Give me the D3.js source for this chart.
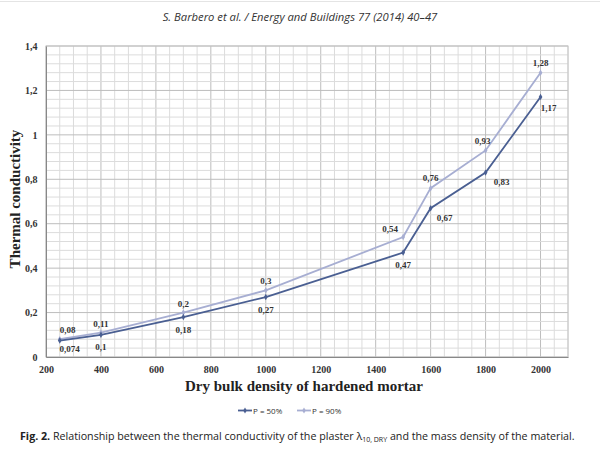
<!DOCTYPE html>
<html><head><meta charset="utf-8">
<script src="https://cdn.jsdelivr.net/npm/d3@7"></script>
<style>body{margin:0;background:#fff}svg{display:block}</style>
</head><body>
<script>
const densities = [250, 400, 700, 1000, 1500, 1600, 1800, 2000];
const p50 = [0.074, 0.1, 0.18, 0.27, 0.47, 0.67, 0.83, 1.17];
const p90 = [0.08, 0.11, 0.2, 0.3, 0.54, 0.76, 0.93, 1.28];
const xTicks = [200, 400, 600, 800, 1000, 1200, 1400, 1600, 1800, 2000];
const yTicks = [0, 0.2, 0.4, 0.6, 0.8, 1, 1.2, 1.4];
const seriesNames = ["P = 50%", "P = 90%"];

const W = 600, H = 456;
const svg = d3.select("body").append("svg").attr("width", W).attr("height", H);
const fmt = v => String(v).replace(".", ",");

function fitWidth(sel, w) {
  const n = sel.node();
  const cur = n.getComputedTextLength();
  const fs = parseFloat(sel.attr("font-size"));
  sel.attr("font-size", fs * w / cur);
}

svg.append("line").attr("x1",0).attr("x2",W).attr("y1",1.5).attr("y2",1.5).attr("stroke","#e4e4e4");
const hdr = svg.append("text").attr("x",300).attr("y",21).attr("text-anchor","middle")
  .attr("font-family","'Open Sans', sans-serif").attr("font-style","italic").attr("font-size",10).attr("fill","#333")
  .text("S. Barbero et al. / Energy and Buildings 77 (2014) 40–47");
fitWidth(hdr, 275);

const x = d3.scaleLinear().domain([200, 2100]).range([46, 568]);
const y = d3.scaleLinear().domain([0, 1.4]).range([357, 46]);

const g = svg.append("g");
g.selectAll(".vm").data(d3.range(200, 2101, 50)).join("line")
  .attr("x1", d=>x(d)).attr("x2", d=>x(d)).attr("y1", y(0)).attr("y2", y(1.4))
  .attr("stroke", d => d%200===0 ? "#bdbdbd" : "#dcdcdc").attr("stroke-width", 1);
g.selectAll(".hm").data(d3.range(0, 36)).join("line")
  .attr("x1", x(200)).attr("x2", x(2100)).attr("y1", d=>y(d*0.04)).attr("y2", d=>y(d*0.04))
  .attr("stroke", d => d%5===0 ? "#bdbdbd" : "#dcdcdc").attr("stroke-width", 1);
g.append("rect").attr("x", x(200)).attr("y", y(1.4)).attr("width", x(2100)-x(200)).attr("height", y(0)-y(1.4))
  .attr("fill","none").attr("stroke","#c4c4c4");

const xAxis = d3.axisBottom(x).tickValues(xTicks).tickSize(0).tickFormat(d=>d);
const ax = svg.append("g").attr("transform",`translate(0,${y(0)})`).call(xAxis);
ax.select(".domain").attr("stroke","#888");
ax.selectAll("text").attr("dy","1.25em").attr("font-family","'Liberation Serif', serif").attr("font-weight","bold").attr("font-size",10).attr("fill","#333");
const yAxis = d3.axisLeft(y).tickValues(yTicks).tickSize(0).tickFormat(fmt);
const ay = svg.append("g").attr("transform",`translate(${x(200)},0)`).call(yAxis);
ay.select(".domain").attr("stroke","#888");
ay.selectAll("text").attr("dx","-0.55em").attr("font-family","'Liberation Serif', serif").attr("font-weight","bold").attr("font-size",10).attr("fill","#333");

svg.append("text").attr("x",304).attr("y",391).attr("text-anchor","middle")
  .attr("font-family","'Liberation Serif', serif").attr("font-weight","bold").attr("font-size",15).attr("fill","#222")
  .text("Dry bulk density of hardened mortar");
svg.append("text").attr("transform","translate(20,199) rotate(-90)").attr("text-anchor","middle")
  .attr("font-family","'Liberation Serif', serif").attr("font-weight","bold").attr("font-size",15).attr("fill","#222")
  .text("Thermal conductivity");

const colors = ["#4a5f92", "#a7aed2"];
const line = d3.line().x((d,i)=>x(densities[i])).y(d=>y(d));
[p90, p50].forEach((s, k) => {
  const c = k===0 ? colors[1] : colors[0];
  svg.append("path").datum(s).attr("d", line).attr("fill","none").attr("stroke", c).attr("stroke-width", 1.8);
  svg.selectAll(null).data(s).join("path")
    .attr("d", d3.symbol(d3.symbolDiamond, 12))
    .attr("transform", (d,i)=>`translate(${x(densities[i])},${y(d)})`).attr("fill", c);
});

const lab50 = [[10,8],[0,12],[0,13],[0,13],[0,12],[14,10],[16,9],[8,11]];
const lab90 = [[8,-9],[0,-9],[0,-9],[0,-9],[-13,-8],[0,-10],[-3,-9],[0,-10]];
const labStyle = sel => sel.attr("text-anchor","middle").attr("font-family","'Liberation Serif', serif")
  .attr("font-weight","bold").attr("font-size",9).attr("fill","#333");
svg.selectAll(null).data(p50).join("text")
  .attr("x",(d,i)=>x(densities[i])+lab50[i][0]).attr("y",(d,i)=>y(d)+lab50[i][1]+3)
  .text(fmt).call(labStyle);
svg.selectAll(null).data(p90).join("text")
  .attr("x",(d,i)=>x(densities[i])+lab90[i][0]).attr("y",(d,i)=>y(d)+lab90[i][1]+3)
  .text(fmt).call(labStyle);

const lg = svg.append("g").attr("font-family","'Open Sans', sans-serif").attr("font-size",8).attr("fill","#333");
[[0,238],[1,297]].forEach(([k,lx])=>{
  lg.append("line").attr("x1",lx).attr("x2",lx+14).attr("y1",410.5).attr("y2",410.5).attr("stroke",colors[k]).attr("stroke-width",1.8);
  lg.append("path").attr("d", d3.symbol(d3.symbolDiamond, 11)).attr("transform",`translate(${lx+7},410.5)`).attr("fill",colors[k]);
  const t = lg.append("text").attr("x",lx+15).attr("y",413.5).text(seriesNames[k]);
  fitWidth(t, 36);
});

const cap = svg.append("text").attr("x",20).attr("y",440).attr("font-family","'Open Sans', sans-serif").attr("font-size",10).attr("fill","#222");
cap.append("tspan").attr("font-weight","bold").text("Fig. 2.");
cap.append("tspan").text("  Relationship between the thermal conductivity of the plaster λ");
cap.append("tspan").attr("font-size",7).attr("dy",2).text("10, DRY");
cap.append("tspan").attr("dy",-2).text(" and the mass density of the material.");
fitWidth(cap, 557);
</script>
</body></html>
